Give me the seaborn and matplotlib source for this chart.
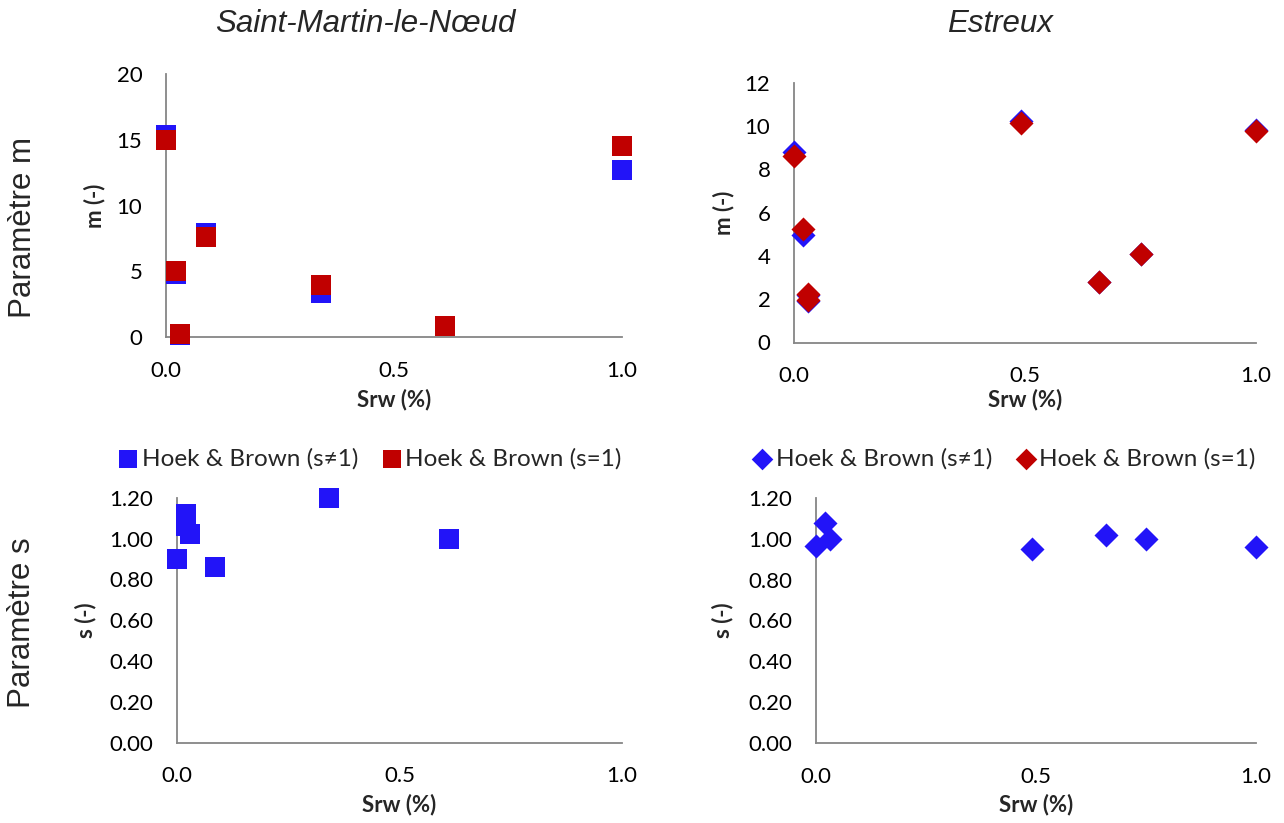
import matplotlib
matplotlib.use("Agg")
import matplotlib.pyplot as plt
import seaborn as sns
import pandas as pd

# Saint-Martin-le-Noeud, parameter m
srw_smn = [0.0, 0.021, 0.031, 0.087, 0.341, 0.611, 1.0]
m_smn_s_free = [15.4, 4.8, 0.15, 7.95, 3.4, 0.85, 12.7]
m_smn_s1 = [15.0, 5.05, 0.25, 7.6, 3.95, 0.88, 14.5]

# Saint-Martin-le-Noeud, parameter s
srw_smn_s = [0.0, 0.02, 0.02, 0.03, 0.086, 0.341, 0.611]
s_smn = [0.90, 1.12, 1.06, 1.02, 0.86, 1.20, 1.00]

# Estreux, parameter m
srw_est = [0.0, 0.019, 0.030, 0.030, 0.491, 0.660, 0.750, 1.0]
m_est_s_free = [8.8, 4.95, 2.2, 1.9, 10.25, 2.8, 4.1, 9.8]
m_est_s1 = [8.6, 5.25, 2.25, 1.95, 10.15, 2.8, 4.1, 9.75]

# Estreux, parameter s
srw_est_s = [0.0, 0.020, 0.031, 0.491, 0.660, 0.751, 1.0]
s_est = [0.965, 1.08, 1.00, 0.95, 1.02, 1.00, 0.96]

titles = ["Saint-Martin-le-Nœud", "Estreux"]
labels = ["Hoek & Brown (s≠1)", "Hoek & Brown (s=1)"]
blue = "#2214F8"
red = "#C00000"
grey = "#868686"

sns.set_theme(style="white")
plt.rcParams["font.family"] = ["Lato", "DejaVu Sans"]

W, H = 1284, 823
fig = plt.figure(figsize=(W / 100, H / 100), dpi=100)


def px_axes(x0, x1, y0, y1):
    # pixel box (left, right, bottom-of-axis, top-of-axis) -> figure fraction
    return fig.add_axes([x0 / W, 1 - y0 / H, (x1 - x0) / W, (y0 - y1) / H])


ax_tl = px_axes(166, 622, 337.3, 74)
ax_tr = px_axes(794, 1256, 342.5, 82.7)
ax_bl = px_axes(177, 622, 742.7, 497.7)
ax_br = px_axes(816, 1256, 743, 498)

sq = dict(marker="s", s=205, linewidth=0, clip_on=False, zorder=3)
dm = dict(marker="D", s=150, linewidth=0, clip_on=False, zorder=3)

df = pd.DataFrame({"srw": srw_smn, "a": m_smn_s_free, "b": m_smn_s1})
sns.scatterplot(data=df, x="srw", y="a", ax=ax_tl, color=blue, label=labels[0], legend=False, **sq)
sns.scatterplot(data=df, x="srw", y="b", ax=ax_tl, color=red, label=labels[1], legend=False, **sq)

df = pd.DataFrame({"srw": srw_est, "a": m_est_s_free, "b": m_est_s1})
sns.scatterplot(data=df, x="srw", y="a", ax=ax_tr, color=blue, label=labels[0], legend=False, **dm)
sns.scatterplot(data=df, x="srw", y="b", ax=ax_tr, color=red, label=labels[1], legend=False, **dm)

sns.scatterplot(x=srw_smn_s, y=s_smn, ax=ax_bl, color=blue, legend=False, **sq)
sns.scatterplot(x=srw_est_s, y=s_est, ax=ax_br, color=blue, legend=False, **dm)

ax_tl.set_ylim(0, 20)
ax_tl.set_yticks([0, 5, 10, 15, 20])
ax_tr.set_ylim(0, 12)
ax_tr.set_yticks([0, 2, 4, 6, 8, 10, 12])
for ax in (ax_bl, ax_br):
    ax.set_ylim(0, 1.2)
    ax.set_yticks([0, 0.2, 0.4, 0.6, 0.8, 1.0, 1.2])
    ax.set_yticklabels([f"{v:.2f}" for v in ax.get_yticks()])

label_pos = {ax_tl: ("m (-)", -0.157, -0.238), ax_tr: ("m (-)", -0.152, -0.221),
             ax_bl: ("s (-)", -0.206, -0.254), ax_br: ("s (-)", -0.213, -0.253)}

for ax, (ylab, yx, xy) in label_pos.items():
    ax.set_xlim(0, 1)
    ax.set_xticks([0, 0.5, 1.0])
    ax.set_xticklabels(["0.0", "0.5", "1.0"])
    ax.set_facecolor("none")
    for side in ("top", "right"):
        ax.spines[side].set_visible(False)
    for side in ("left", "bottom"):
        ax.spines[side].set_color(grey)
        ax.spines[side].set_linewidth(1.3)
    ax.tick_params(axis="both", direction="out", length=6, width=1.3, color=grey,
                   labelsize=16, labelcolor="black")
    ax.tick_params(axis="x", pad=11)
    ax.tick_params(axis="y", pad=11)
    ax.set_xlabel("Srw (%)", fontsize=16, fontweight="bold", va="center")
    ax.set_ylabel(ylab, fontsize=16, fontweight="bold", va="center")
    ax.xaxis.set_label_coords(0.5, xy)
    ax.yaxis.set_label_coords(yx, 0.5)

# legends between the rows
for ax, cx in ((ax_tl, 369), (ax_tr, 1003)):
    h, l = ax.get_legend_handles_labels()
    ax.legend(h, l, loc="center", bbox_to_anchor=(cx / W, 1 - 459 / H),
              bbox_transform=fig.transFigure, ncol=2, frameon=False,
              fontsize=17.5, handletextpad=0.05, columnspacing=0.9,
              handlelength=1.0, markerscale=0.9, borderaxespad=0)

title_font = ["Liberation Sans", "DejaVu Sans"]
fig.text(365 / W, 1 - 24 / H, titles[0], ha="center", va="center", fontsize=22.5,
         style="italic", family=title_font)
fig.text(1000 / W, 1 - 24 / H, titles[1], ha="center", va="center", fontsize=22.5,
         style="italic", family=title_font)
fig.text(23 / W, 1 - 228 / H, "Paramètre m", rotation=90, ha="center", va="center",
         fontsize=22.5, family=title_font)
fig.text(22 / W, 1 - 623 / H, "Paramètre s", rotation=90, ha="center", va="center",
         fontsize=22.5, family=title_font)

fig.savefig("out.png", dpi=100)
